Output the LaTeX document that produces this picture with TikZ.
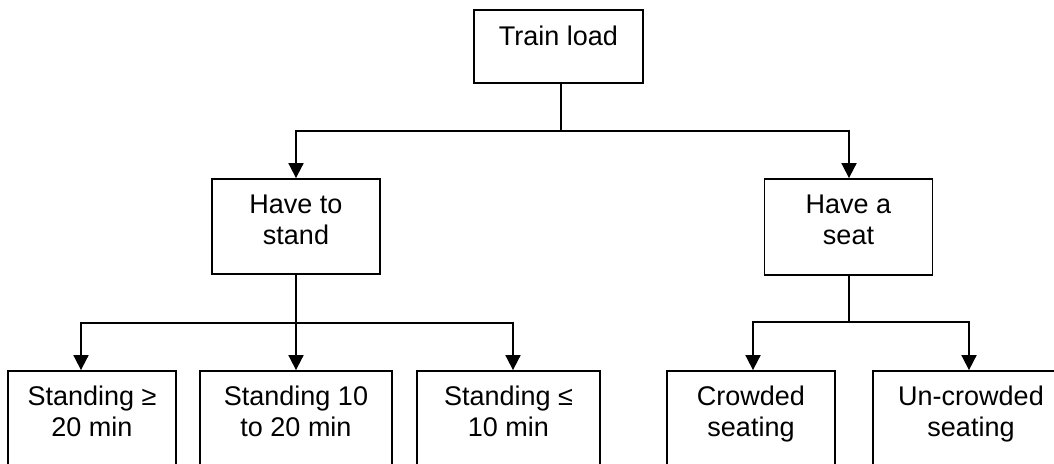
\documentclass[tikz,border=0pt]{standalone}
\usepackage{fontspec}
\setmainfont{Liberation Sans}
\usetikzlibrary{arrows.meta}
\begin{document}
\begin{tikzpicture}[x=1pt,y=-1pt,
  box/.style={draw, line width=1.8pt, inner sep=0pt},
  lbl/.style={font=\fontsize{27}{31}\selectfont, align=center, inner sep=0pt, anchor=north},
  link/.style={line width=1.8pt},
  arr/.style={link, -{Triangle[length=15pt,width=15pt]}}]
\clip (0,0) rectangle (1054,463);
\fill[white] (0,0) rectangle (1054,463);

% top level
\node[box, minimum width=169pt, minimum height=73pt] (tl) at (558.5,46.5) {};
\node[lbl] (tlt) at ([yshift=-17pt]tl.north) {Train load};

% second level
\node[box, minimum width=168pt, minimum height=95pt] (hs) at (296,226.5) {};
\node[lbl] (hst) at ([yshift=-17pt]hs.north) {Have to\\stand};
\node[box, minimum width=168pt, minimum height=96pt] (ss) at (848.5,227) {};
\node[lbl] (sst) at ([yshift=-17pt]ss.north) {Have a\\seat};

% third level (boxes run past the lower edge)
\node[box, minimum width=168pt, minimum height=120pt] (b1) at (92,431) {};
\node[box, minimum width=192pt, minimum height=120pt] (b2) at (296,431) {};
\node[box, minimum width=183pt, minimum height=120pt] (b3) at (508.5,431) {};
\node[box, minimum width=168pt, minimum height=120pt] (b4) at (751,431) {};
\node[box, minimum width=196pt, minimum height=120pt] (b5) at (971,431) {};
\node[lbl] (b1t) at ([yshift=-16pt]b1.north) {Standing ≥\\20 min};
\node[lbl] (b2t) at ([yshift=-16pt]b2.north) {Standing 10\\to 20 min};
\node[lbl] (b3t) at ([yshift=-16pt]b3.north) {Standing ≤\\10 min};
\node[lbl] (b4t) at ([yshift=-16pt]b4.north) {Crowded\\seating};
\node[lbl] (b5t) at ([yshift=-16pt]b5.north) {Un-crowded\\seating};

% junctions
\coordinate (j0) at (561,131);
\coordinate (j1) at (296,323);
\coordinate (j2) at (849,322);

% connectors
\draw[link] (tl.south -| j0) -- (j0);
\draw[arr] (j0) -| (hs.north);
\draw[arr] (j0) -| ([xshift=0.5pt]ss.north);

\draw[link] (hs.south) -- (j1);
\draw[arr] (j1) -| ([xshift=-11pt]b1.north);
\draw[arr] (j1) -- (b2.north);
\draw[arr] (j1) -| ([xshift=4.5pt]b3.north);

\draw[link] (ss.south -| j2) -- (j2);
\draw[arr] (j2) -| ([xshift=2pt]b4.north);
\draw[arr] (j2) -| ([xshift=-2pt]b5.north);
\end{tikzpicture}
\end{document}
